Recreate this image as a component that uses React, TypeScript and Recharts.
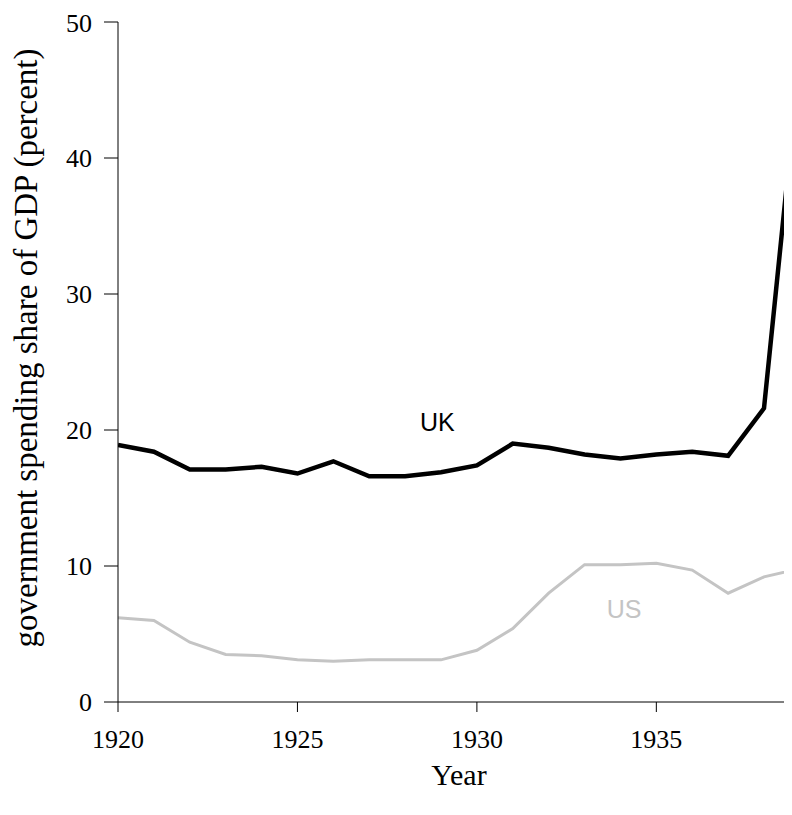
import { Line, LineChart, ReferenceDot, XAxis, YAxis } from "recharts";

const YEARS = [
  1920, 1921, 1922, 1923, 1924, 1925, 1926, 1927, 1928, 1929,
  1930, 1931, 1932, 1933, 1934, 1935, 1936, 1937, 1938, 1939,
];
const UK = [
  18.9, 18.4, 17.1, 17.1, 17.3, 16.8, 17.7, 16.6, 16.6, 16.9,
  17.4, 19.0, 18.7, 18.2, 17.9, 18.2, 18.4, 18.1, 21.6, 47.5,
];
const US = [
  6.2, 6.0, 4.4, 3.5, 3.4, 3.1, 3.0, 3.1, 3.1, 3.1,
  3.8, 5.4, 8.0, 10.1, 10.1, 10.2, 9.7, 8.0, 9.2, 9.8,
];
const X_TICKS = [1920, 1925, 1930, 1935];
const Y_TICKS = [0, 10, 20, 30, 40, 50];
// the visible window stops a little before 1939, cutting the last segment
const X_DOMAIN = [1920, 1938.78];

// series name labels, placed in data units
const SERIES_LABELS = [
  { text: "UK", year: 1928.9, value: 20.6, color: "#000000" },
  { text: "US", year: 1934.1, value: 6.8, color: "#c4c4c4" },
];

const SERIF = "'Liberation Serif', 'Times New Roman', serif";
const SANS = "'Liberation Sans', Arial, sans-serif";

const data = YEARS.map((year, i) => ({ year, uk: UK[i], us: US[i] }));

export default function App() {
  return (
    <div style={{ width: 784, height: 790, overflow: "hidden", background: "#fff" }}>
      <LineChart
        width={784}
        height={790}
        data={data}
        margin={{ top: 14, right: 0, bottom: 0, left: 0 }}
      >
        <XAxis
          dataKey="year"
          type="number"
          domain={X_DOMAIN}
          allowDataOverflow
          ticks={X_TICKS}
          height={96}
          stroke="#000"
          tickSize={10}
          tickMargin={18}
          tick={{ fill: "#000", fontSize: 26, fontFamily: SERIF }}
          label={{
            value: "Year",
            position: "insideBottom",
            offset: 13,
            dx: 4,
            fill: "#000",
            fontSize: 30,
            fontFamily: SERIF,
          }}
        />
        <YAxis
          type="number"
          domain={[0, 50]}
          ticks={Y_TICKS}
          width={110}
          stroke="#000"
          tickSize={14}
          tickMargin={12}
          tick={{ fill: "#000", fontSize: 26, fontFamily: SERIF }}
          label={{
            value: "government spending share of GDP (percent)",
            angle: -90,
            position: "insideLeft",
            offset: 17,
            dy: -14,
            style: { textAnchor: "middle" },
            fill: "#000",
            fontSize: 33,
            fontFamily: SERIF,
          }}
        />
        <Line
          dataKey="us"
          stroke="#c4c4c4"
          strokeWidth={3}
          dot={false}
          type="linear"
          isAnimationActive={false}
        />
        <Line
          dataKey="uk"
          stroke="#000000"
          strokeWidth={4.5}
          dot={false}
          type="linear"
          isAnimationActive={false}
        />
        {SERIES_LABELS.map((l) => (
          <ReferenceDot
            key={l.text}
            x={l.year}
            y={l.value}
            r={0}
            stroke="none"
            fill="none"
            label={{
              value: l.text,
              position: "center",
              fill: l.color,
              fontSize: 25,
              fontFamily: SANS,
            }}
          />
        ))}
      </LineChart>
    </div>
  );
}
